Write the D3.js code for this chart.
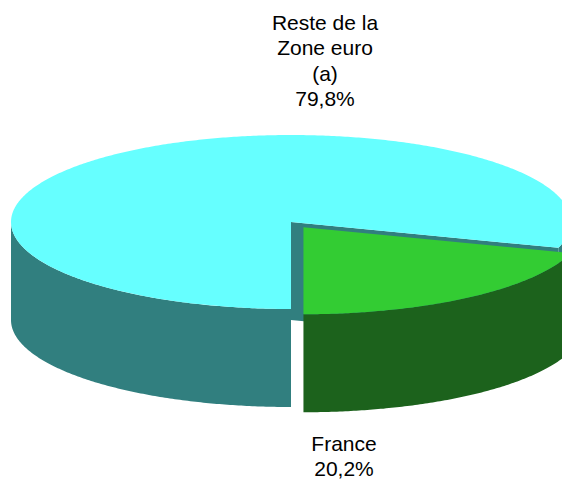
<!DOCTYPE html>
<html>
<head>
<meta charset="utf-8">
<script src="https://cdn.jsdelivr.net/npm/d3@7"></script>
<style>
  body { margin: 0; background: #fff; }
  svg { display: block; }
</style>
</head>
<body>
<div id="chart"></div>
<script>
// data
const labels = [["Reste de la", "Zone euro", "(a)", "79,8%"], ["France", "20,2%"]];
const values = [79.8, 20.2];
const topColors = ["#66ffff", "#33cc33"];
const sideColors = ["#317f7f", "#1c621c"];
const exploded = [0, 1];

const width = 562, height = 484;
const cx = 291, cy = 222;
const rx = 280, tilt = 87 / 280, depth = 98, explode = 21;

const svg = d3.select("#chart").append("svg")
  .attr("width", width)
  .attr("height", height);

const pie = d3.pie().sort(null).startAngle(Math.PI).endAngle(3 * Math.PI);
const arcs = pie(values);

// pie angle (0 = up, clockwise) -> screen point on the tilted ellipse
function pt(a, r, o, dz) {
  return [cx + o[0] + r * Math.sin(a), cy + o[1] - r * tilt * Math.cos(a) + dz];
}
function arcPts(a0, a1, o, dz) {
  const n = Math.max(2, Math.ceil(Math.abs(a1 - a0) / 0.01));
  return d3.range(n + 1).map(i => pt(a0 + (a1 - a0) * i / n, rx, o, dz));
}
const line = d3.line();

arcs.forEach((d, i) => {
  const mid = (d.startAngle + d.endAngle) / 2;
  const e = exploded[i] ? explode : 0;
  const o = [e * Math.sin(mid), -e * tilt * Math.cos(mid)];
  const c = pt(0, 0, o, 0);
  const g = svg.append("g");

  // radial walls facing the viewer
  [[d.startAngle, Math.sin(d.startAngle) < -1e-6], [d.endAngle, Math.sin(d.endAngle) > 1e-6]]
    .forEach(([a, vis]) => {
      if (!vis) return;
      const p = pt(a, rx, o, 0);
      g.append("path")
        .attr("d", line([c, p, [p[0], p[1] + depth], [c[0], c[1] + depth]]) + "Z")
        .attr("fill", sideColors[i]);
    });

  // outer side, front half only
  for (let k = 0; k < 3; k++) {
    const f0 = Math.PI / 2 + 2 * k * Math.PI, f1 = 3 * Math.PI / 2 + 2 * k * Math.PI;
    const a0 = Math.max(d.startAngle, f0), a1 = Math.min(d.endAngle, f1);
    if (a1 <= a0) continue;
    const top = arcPts(a0, a1, o, 0);
    const bot = arcPts(a1, a0, o, depth);
    g.append("path")
      .attr("d", line(top.concat(bot)) + "Z")
      .attr("fill", sideColors[i]);
  }

  // top face
  g.append("path")
    .attr("d", line([c].concat(arcPts(d.startAngle, d.endAngle, o, 0))) + "Z")
    .attr("fill", topColors[i]);
});

// labels
const labelPos = [[325, 30], [344, 451]];
labels.forEach((lines, i) => {
  const t = svg.append("text")
    .attr("text-anchor", "middle")
    .style("font-family", "Arial, 'Liberation Sans', sans-serif")
    .style("font-size", "21px")
    .attr("fill", "#000");
  lines.forEach((s, j) => {
    t.append("tspan")
      .attr("x", labelPos[i][0])
      .attr("y", labelPos[i][1] + j * 25.3)
      .text(s);
  });
});
</script>
</body>
</html>
